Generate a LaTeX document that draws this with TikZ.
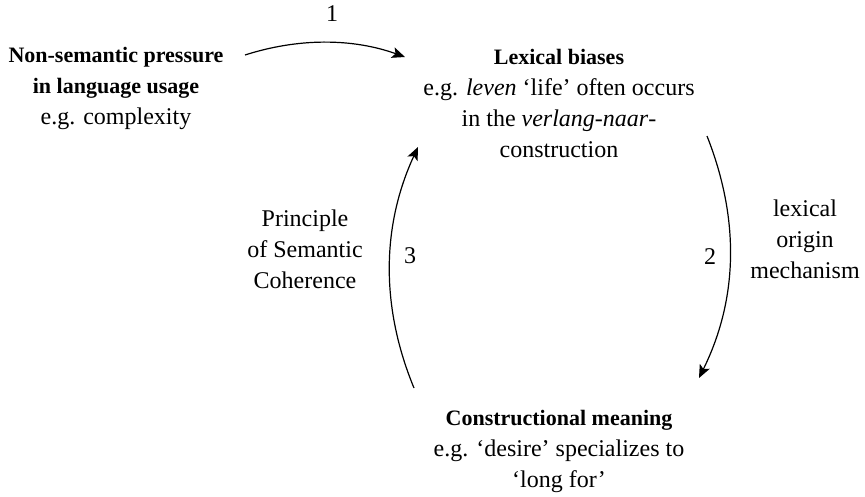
\documentclass[tikz,border=0pt]{standalone}
\usepackage{fontspec}
\setmainfont{Liberation Serif}
\usetikzlibrary{arrows.meta}
\newcommand{\hd}[1]{{\fontsize{22}{31}\selectfont\bfseries #1}}
\begin{document}
\begin{tikzpicture}[x=1pt,y=-1pt,
  txt/.style={align=center,font=\fontsize{24}{31}\selectfont,inner sep=0pt},
  conn/.style={line width=1.2pt,-{Stealth[length=13pt,width=11pt,inset=3pt]}},
  lbl/.style={font=\fontsize{24}{31}\selectfont,inner sep=0pt}]
\useasboundingbox (0,0) rectangle (865,496);
\node[txt] (A) at (116,88) {\hd{Non-semantic pressure}\\\hd{in language usage}\\e.g. complexity};
\node[txt] (B) at (559,103) {\hd{Lexical biases}\\e.g. \textit{leven} `life' often occurs\\in the \textit{verlang-naar}-\\construction};
\node[txt] (C) at (559,451) {\hd{Constructional meaning}\\e.g. `desire' specializes to\\`long for'};
\coordinate (a1s) at (245,55);
\coordinate (a1e) at (405,57);
\coordinate (a2s) at (707,136);
\coordinate (a2e) at (699,378);
\coordinate (a3s) at (414,388);
\coordinate (a3e) at (418,147);
\draw[conn] (a1s) .. controls (298,38) and (352,38) .. (a1e);
\draw[conn] (a2s) .. controls (739,217) and (739,297) .. (a2e);
\draw[conn] (a3s) .. controls (381,308) and (381,227) .. (a3e);
\node[lbl] (n1) at (332,14) {1};
\node[lbl] (n2) at (710,257) {2};
\node[lbl] (n3) at (410,256) {3};
\node[txt] (L2) at (805,239) {lexical\\origin\\mechanism};
\node[txt] (L3) at (305,249) {Principle\\of Semantic\\Coherence};
\end{tikzpicture}
\end{document}
